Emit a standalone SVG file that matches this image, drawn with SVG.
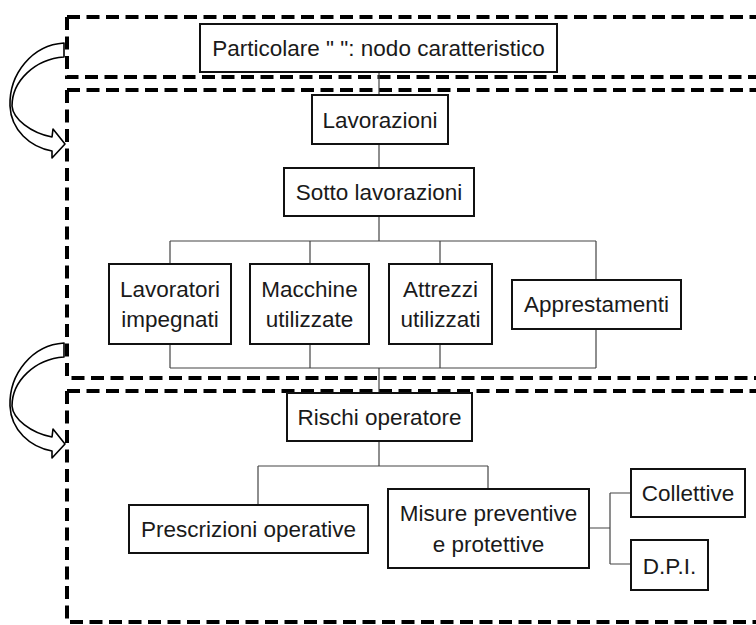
<svg xmlns="http://www.w3.org/2000/svg" width="756" height="625" viewBox="0 0 756 625">
<style>
.bg{fill:#fff}
.dash{fill:none;stroke:#000;stroke-width:4;stroke-dasharray:13 6.5}
.box{fill:#fff;stroke:#111;stroke-width:2}
.t{font-family:"Liberation Sans",Arial,sans-serif;font-size:22.5px;fill:#1a1a1a;text-anchor:middle}
.c{fill:none;stroke:#444;stroke-width:1.2}
.arr{fill:#fff;stroke:#000;stroke-width:1.6;stroke-linejoin:round}
</style>
<defs>
<path id="curvArrow" d="M64,43 C32,45 9,74 10,106 C11,130 30,147 52,151 L52,158 L65,144 L53,129 L52,137 C31,133 13,119 12,106 C12,81 35,59 64,57 Z"/>
</defs>
<rect class="bg" x="0" y="0" width="756" height="625"/>
<g id="frames">
<path class="dash" d="M67,17 H760 M67,17 V77 H760"/>
<path class="dash" d="M67,90 H760 M67,90 V378 H760"/>
<path class="dash" d="M67,391 H760 M67,391 V622 H760"/>
</g>
<g id="connectors">
<path class="c" d="M379,72 V95 M379,144 V168 M379,216 V241 M170,241 H596 M170,241 V264 M310,241 V264 M440,241 V264 M596,241 V280 M170,344 V368 M310,344 V368 M440,344 V368 M596,329 V368 M170,368 H596 M379,368 V393 M379,441 V466 M258,466 H488 M258,466 V505 M488,466 V489 M589,528 H610 M610,493 V564 M610,493 H631 M610,564 H631"/>
</g>
<g id="arrow1"><use href="#curvArrow" class="arr"/></g>
<g id="arrow2"><use href="#curvArrow" class="arr" transform="translate(0,300)"/></g>
<g id="particolare"><rect class="box" x="200" y="24" width="357" height="48"/><text class="t" x="378.5" y="56">Particolare " ": nodo caratteristico</text></g>
<g id="lavorazioni"><rect class="box" x="312" y="95" width="136" height="49"/><text class="t" x="380" y="127.5">Lavorazioni</text></g>
<g id="sotto"><rect class="box" x="284" y="168" width="190" height="48"/><text class="t" x="379" y="200">Sotto lavorazioni</text></g>
<g id="lavoratori"><rect class="box" x="109" y="264" width="122" height="80"/><text class="t" x="170" y="297">Lavoratori</text><text class="t" x="170" y="327">impegnati</text></g>
<g id="macchine"><rect class="box" x="250" y="264" width="119" height="80"/><text class="t" x="309.5" y="297">Macchine</text><text class="t" x="309.5" y="327">utilizzate</text></g>
<g id="attrezzi"><rect class="box" x="389" y="264" width="103" height="80"/><text class="t" x="440.5" y="297">Attrezzi</text><text class="t" x="440.5" y="327">utilizzati</text></g>
<g id="apprestamenti"><rect class="box" x="512" y="280" width="169" height="49"/><text class="t" x="596.5" y="312">Apprestamenti</text></g>
<g id="rischi"><rect class="box" x="287" y="393" width="185" height="48"/><text class="t" x="379.5" y="425">Rischi operatore</text></g>
<g id="prescrizioni"><rect class="box" x="129" y="505" width="239" height="48"/><text class="t" x="248.5" y="537">Prescrizioni operative</text></g>
<g id="misure"><rect class="box" x="388" y="489" width="201" height="79"/><text class="t" x="488.5" y="520.5">Misure preventive</text><text class="t" x="488.5" y="551.5">e protettive</text></g>
<g id="collettive"><rect class="box" x="631" y="469" width="114" height="48"/><text class="t" x="688" y="501">Collettive</text></g>
<g id="dpi"><rect class="box" x="631" y="540" width="77" height="50"/><text class="t" x="669.5" y="574">D.P.I.</text></g>
</svg>
